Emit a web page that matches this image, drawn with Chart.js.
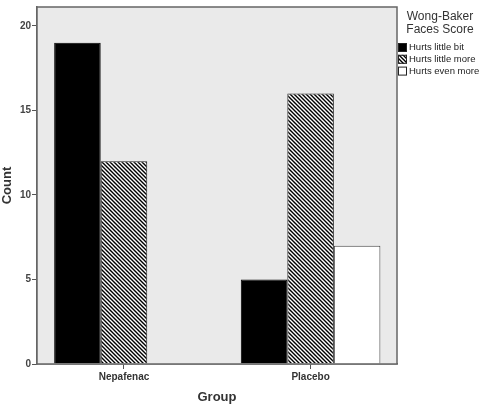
<!DOCTYPE html>
<html>
<head>
<meta charset="utf-8">
<script src="https://cdn.jsdelivr.net/npm/chart.js@4"></script>
<style>
  html, body { margin: 0; padding: 0; background: #fff; }
  canvas { display: block; }
</style>
</head>
<body>
<canvas id="chartPain" width="485" height="405"></canvas>
<script>
// values
const groups = ['Nepafenac', 'Placebo'];
const hurtsLittleBit = [19, 5];
const hurtsLittleMore = [12, 16];
const hurtsEvenMore = [0, 7];
const yTicks = [0, 5, 10, 15, 20];
const legendTitle = ['Wong-Baker', 'Faces Score'];

const FONT = "'Liberation Sans', Arial, sans-serif";

// diagonal hatch like SPSS
function makeHatch() {
  const s = 4;
  const c = document.createElement('canvas');
  c.width = s; c.height = s;
  const g = c.getContext('2d');
  g.fillStyle = '#fff';
  g.fillRect(0, 0, s, s);
  g.strokeStyle = '#000';
  g.lineWidth = 1.4;
  g.beginPath();
  g.moveTo(-1, -1); g.lineTo(s + 1, s + 1);
  g.moveTo(s - 1, -1); g.lineTo(s + 1, 1);
  g.moveTo(-1, s - 1); g.lineTo(1, s + 1);
  g.stroke();
  return g.createPattern(c, 'repeat');
}
const hatch = makeHatch();

const toPoints = arr => arr.map((v, i) => ({ x: i, y: v }));

// grey plot background + frame
const frame = {
  id: 'frame',
  beforeDatasetsDraw(chart) {
    const { ctx, chartArea: a } = chart;
    ctx.save();
    ctx.fillStyle = '#eaeaea';
    ctx.fillRect(a.left, a.top, a.right - a.left, a.bottom - a.top);
    ctx.restore();
  },
  afterDatasetsDraw(chart) {
    const { ctx, chartArea: a } = chart;
    ctx.save();
    ctx.strokeStyle = '#666';
    ctx.lineWidth = 1.5;
    ctx.strokeRect(a.left, a.top, a.right - a.left, a.bottom - a.top);
    ctx.restore();
  }
};

// legend on the right, SPSS style
const spssLegend = {
  id: 'spssLegend',
  afterDraw(chart) {
    const { ctx } = chart;
    ctx.save();
    ctx.fillStyle = '#333';
    ctx.textBaseline = 'middle';
    ctx.textAlign = 'center';
    ctx.font = '12px ' + FONT;
    legendTitle.forEach((t, i) => ctx.fillText(t, 440, 17 + i * 13));
    ctx.textAlign = 'left';
    ctx.font = '9.5px ' + FONT;
    chart.data.datasets.forEach((ds, i) => {
      const y = 47.5 + i * 11.8;
      ctx.fillStyle = ds.backgroundColor;
      ctx.fillRect(398, y - 4.5, 9, 9);
      ctx.strokeStyle = '#222';
      ctx.lineWidth = 1;
      ctx.strokeRect(398.5, y - 4, 8, 8);
      ctx.fillStyle = '#222';
      ctx.fillText(ds.label, 409, y);
    });
    ctx.restore();
  }
};

new Chart(document.getElementById('chartPain'), {
  type: 'bar',
  data: {
    datasets: [
      { label: 'Hurts little bit', data: toPoints(hurtsLittleBit), backgroundColor: '#000', borderColor: '#000', borderWidth: 1 },
      { label: 'Hurts little more', data: toPoints(hurtsLittleMore), backgroundColor: hatch, borderColor: '#222', borderWidth: 1 },
      { label: 'Hurts even more', data: toPoints(hurtsEvenMore), backgroundColor: '#fff', borderColor: '#444', borderWidth: 1 }
    ]
  },
  options: {
    responsive: false,
    devicePixelRatio: 1,
    animation: false,
    layout: { padding: { left: 0, top: 5, right: 88, bottom: 0 } },
    datasets: { bar: { categoryPercentage: 0.748, barPercentage: 1, borderSkipped: 'start' } },
    plugins: { legend: { display: false }, tooltip: { enabled: false } },
    scales: {
      x: {
        type: 'linear',
        min: -0.466,
        max: 1.463,
        offset: false,
        afterBuildTicks: s => { s.ticks = groups.map((g, i) => ({ value: i })); },
        afterFit: s => { s.height = 41; },
        grid: { offset: false, drawOnChartArea: false, drawTicks: true, tickLength: 5, color: '#555', lineWidth: 1 },
        border: { display: true, color: '#666', width: 1.5 },
        ticks: {
          callback: v => groups[v],
          padding: 2,
          color: '#333',
          font: { family: FONT, size: 10, weight: 'bold' },
          maxRotation: 0
        },
        title: { display: true, text: 'Group', color: '#333', padding: { top: 0, bottom: 0 }, font: { family: FONT, size: 13, weight: 'bold' } }
      },
      y: {
        min: 0,
        max: 21.12,
        afterBuildTicks: s => { s.ticks = yTicks.map(v => ({ value: v })); },
        afterFit: s => { s.width = 37; },
        grid: { drawOnChartArea: false, drawTicks: true, tickLength: 5, color: '#555', lineWidth: 1 },
        border: { display: true, color: '#666', width: 1.5 },
        ticks: { padding: 1, color: '#444', font: { family: FONT, size: 10, weight: 'bold' } },
        title: { display: true, text: 'Count', color: '#333', padding: { top: 0, bottom: 0 }, font: { family: FONT, size: 13, weight: 'bold' } }
      }
    }
  },
  plugins: [frame, spssLegend]
});
</script>
</body>
</html>
